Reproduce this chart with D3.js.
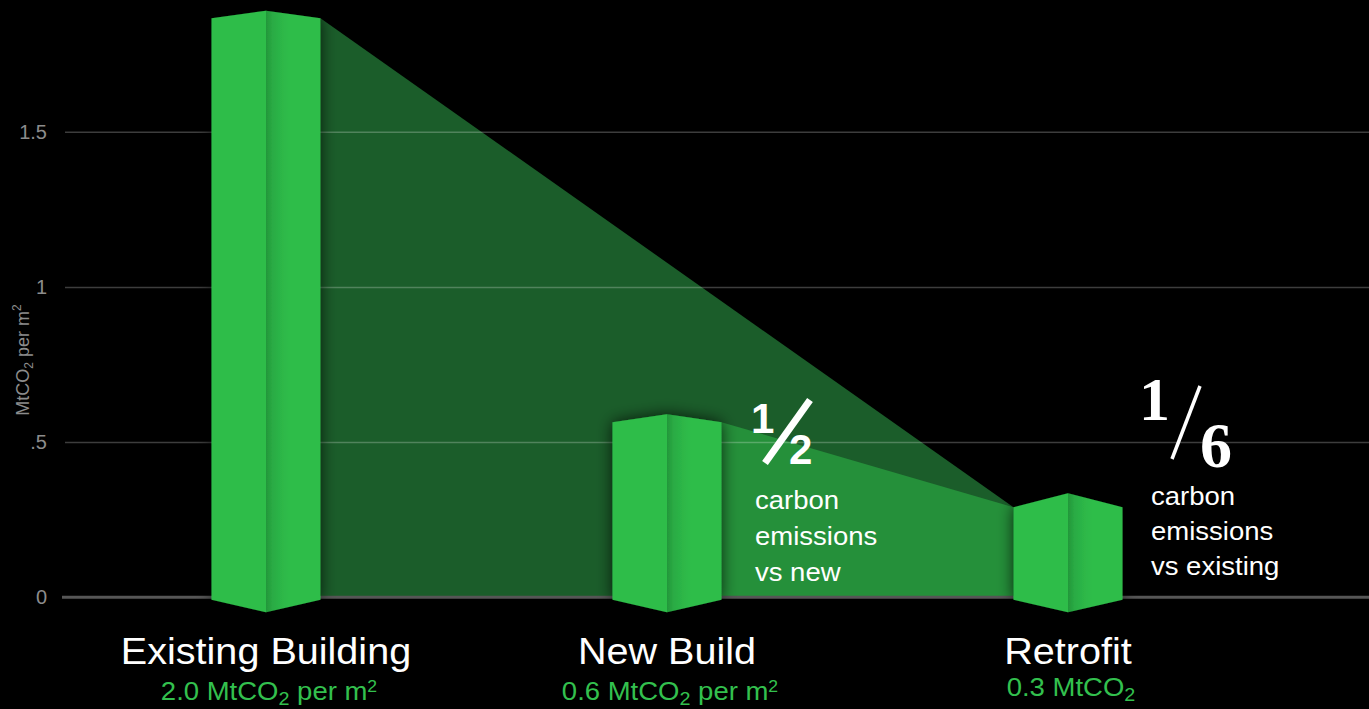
<!DOCTYPE html>
<html><head><meta charset="utf-8">
<script src="https://cdn.jsdelivr.net/npm/d3@7"></script>
<style>
html,body{margin:0;padding:0;background:#000;overflow:hidden}
svg{display:block}
</style></head><body>
<svg id="c" width="1369" height="709"></svg>
<script>
// ---------- data ----------
const categories = ["Existing Building", "New Build", "Retrofit"];
const values = [1.89, 0.59, 0.335];
const valueLabels = ["2.0", "0.6", "0.3"];
const valuePerM2 = [true, true, false];
const yTicks = [0, 0.5, 1, 1.5];
const yTickLabels = ["0", ".5", "1", "1.5"];
const notes = [
  {num: "1", den: "2", lines: ["carbon", "emissions", "vs new"]},
  {num: "1", den: "6", lines: ["carbon", "emissions", "vs existing"]}
];

// ---------- layout / style ----------
const W = 1369, H = 709;
const FONT = "'Liberation Sans', Arial, Helvetica, sans-serif";
const SERIF = "'Liberation Serif', 'Times New Roman', serif";
const BAR = "#2fbd4a";
const SX = 1.1;
const svg = d3.select("#c");
const y = d3.scaleLinear().domain([0, 1.5]).range([597.3, 131.7]);
const x = d3.scalePoint().domain(categories).range([266, 1068]);
const halfW = 54.5;
const topSkew = [7.5, 8, 14];
const botCorner = 2.5, botCenter = 15;

const defs = svg.append("defs");
const f = defs.append("filter").attr("id", "sh").attr("x", "-40%").attr("y", "-10%").attr("width", "180%").attr("height", "120%");
f.append("feGaussianBlur").attr("in", "SourceAlpha").attr("stdDeviation", 8).attr("result", "b");
f.append("feComponentTransfer").attr("in", "b").attr("result", "b2")
  .append("feFuncA").attr("type", "linear").attr("slope", 0.75);
const m = f.append("feMerge");
m.append("feMergeNode").attr("in", "b2");
m.append("feMergeNode").attr("in", "SourceGraphic");

const g = defs.append("linearGradient").attr("id", "rf").attr("x1", 0).attr("x2", 1).attr("y1", 0).attr("y2", 0);
[[0, "#23973a"], [0.12, "#2aab44"], [0.3, "#2db747"], [0.45, BAR], [1, BAR]].forEach(s =>
  g.append("stop").attr("offset", s[0]).attr("stop-color", s[1]));

const line = d3.line();
const topY = i => y(values[i]) + topSkew[i];
const xs = i => x(categories[i]);

// ---------- regions ----------
const regions = [
  {from: 0, to: 2, fill: "#1b5d2a"},
  {from: 1, to: 2, fill: "#25903a"}
];
svg.append("g").selectAll("path").data(regions).join("path")
  .attr("d", r => line([
    [xs(r.from) + halfW, topY(r.from)],
    [xs(r.to) - halfW, topY(r.to)],
    [xs(r.to) - halfW, y(0)],
    [xs(r.from) + halfW, y(0)]
  ]) + "Z")
  .attr("fill", r => r.fill);

// ---------- grid / axis ----------
const axis = d3.axisLeft(y).tickValues(yTicks).tickFormat((d, i) => yTickLabels[i])
  .tickSize(-(W - 65)).tickPadding(18);
const ax = svg.append("g").attr("transform", "translate(65,0)").call(axis);
ax.select(".domain").remove();
ax.selectAll(".tick line").attr("stroke", "rgba(255,255,255,0.24)").attr("stroke-width", 1.5)
  .filter(d => d === 0).remove();
ax.selectAll(".tick text").attr("fill", "#8c8c8c").attr("font-family", FONT).attr("font-size", 20);
svg.append("line").attr("x1", 62).attr("x2", W).attr("y1", y(0)).attr("y2", y(0))
  .attr("stroke", "#565656").attr("stroke-width", 3);

const yl = svg.append("text").attr("transform", `translate(29,360) rotate(-90)`)
  .attr("text-anchor", "middle").attr("fill", "#8c8c8c").attr("font-family", FONT).attr("font-size", 18);
yl.append("tspan").text("MtCO");
yl.append("tspan").attr("font-size", 12).attr("dy", 4).text("2");
yl.append("tspan").attr("dy", -4).text(" per m");
yl.append("tspan").attr("font-size", 12).attr("dy", -8).text("2");

// ---------- bars ----------
const bars = svg.append("g").selectAll("g").data(categories).join("g").attr("filter", "url(#sh)");
bars.append("path").attr("fill", BAR).attr("d", (c, i) => line([
  [xs(i) - halfW, topY(i)], [xs(i), y(values[i])], [xs(i), y(0) + botCenter], [xs(i) - halfW, y(0) + botCorner]
]) + "Z");
bars.append("path").attr("fill", "url(#rf)").attr("d", (c, i) => line([
  [xs(i), y(values[i])], [xs(i) + halfW, topY(i)], [xs(i) + halfW, y(0) + botCorner], [xs(i), y(0) + botCenter]
]) + "Z");

// ---------- category labels ----------
svg.append("g").selectAll("text").data(categories).join("text")
  .attr("transform", (c, i) => `translate(${xs(i)},664) scale(1.07,1)`).attr("text-anchor", "middle")
  .attr("fill", "#fff").attr("font-family", FONT).attr("font-size", 37).text(c => c);

const sub = svg.append("g").selectAll("text").data(categories).join("text")
  .attr("transform", (c, i) => `translate(${xs(i) + 3},${valuePerM2[i] ? 700 : 696}) scale(${SX},1)`)
  .attr("text-anchor", "middle")
  .attr("fill", "#33c04e").attr("font-family", FONT).attr("font-size", 25);
sub.each(function (c, i) {
  const t = d3.select(this);
  t.append("tspan").text(valueLabels[i] + " MtCO");
  t.append("tspan").attr("font-size", 18).attr("dy", 5).text("2");
  if (valuePerM2[i]) {
    t.append("tspan").attr("dy", -5).text(" per m");
    t.append("tspan").attr("font-size", 16).attr("dy", -8).text("2");
  }
});

// ---------- annotations ----------
// 1/2 (sans bold)
const n0 = svg.append("g");
n0.append("text").attr("x", 751).attr("y", 433).attr("fill", "#fff").attr("font-family", FONT)
  .attr("font-weight", "bold").attr("font-size", 42).text(notes[0].num);
n0.append("line").attr("x1", 765).attr("y1", 463).attr("x2", 810).attr("y2", 400)
  .attr("stroke", "#fff").attr("stroke-width", 7);
n0.append("text").attr("x", 789).attr("y", 464).attr("fill", "#fff").attr("font-family", FONT)
  .attr("font-weight", "bold").attr("font-size", 42).text(notes[0].den);
n0.append("text").attr("transform", `translate(755,0) scale(${SX},1)`).attr("fill", "#fff")
  .attr("font-family", FONT).attr("font-size", 25)
  .selectAll("tspan").data(notes[0].lines).join("tspan")
  .attr("x", 0).attr("y", (d, i) => 509 + i * 36).text(d => d);

// 1/6 (serif bold)
const n1 = svg.append("g");
n1.append("text").attr("x", 1139).attr("y", 420).attr("fill", "#fff").attr("font-family", SERIF)
  .attr("font-weight", "bold").attr("font-size", 62).text(notes[1].num);
n1.append("line").attr("x1", 1172).attr("y1", 459).attr("x2", 1200).attr("y2", 386)
  .attr("stroke", "#fff").attr("stroke-width", 3.5);
n1.append("text").attr("x", 1200).attr("y", 467).attr("fill", "#fff").attr("font-family", SERIF)
  .attr("font-weight", "bold").attr("font-size", 64).text(notes[1].den);
n1.append("text").attr("transform", `translate(1151,0) scale(${SX},1)`).attr("fill", "#fff")
  .attr("font-family", FONT).attr("font-size", 25)
  .selectAll("tspan").data(notes[1].lines).join("tspan")
  .attr("x", 0).attr("y", (d, i) => 505 + i * 35).text(d => d);
</script>
</body></html>
